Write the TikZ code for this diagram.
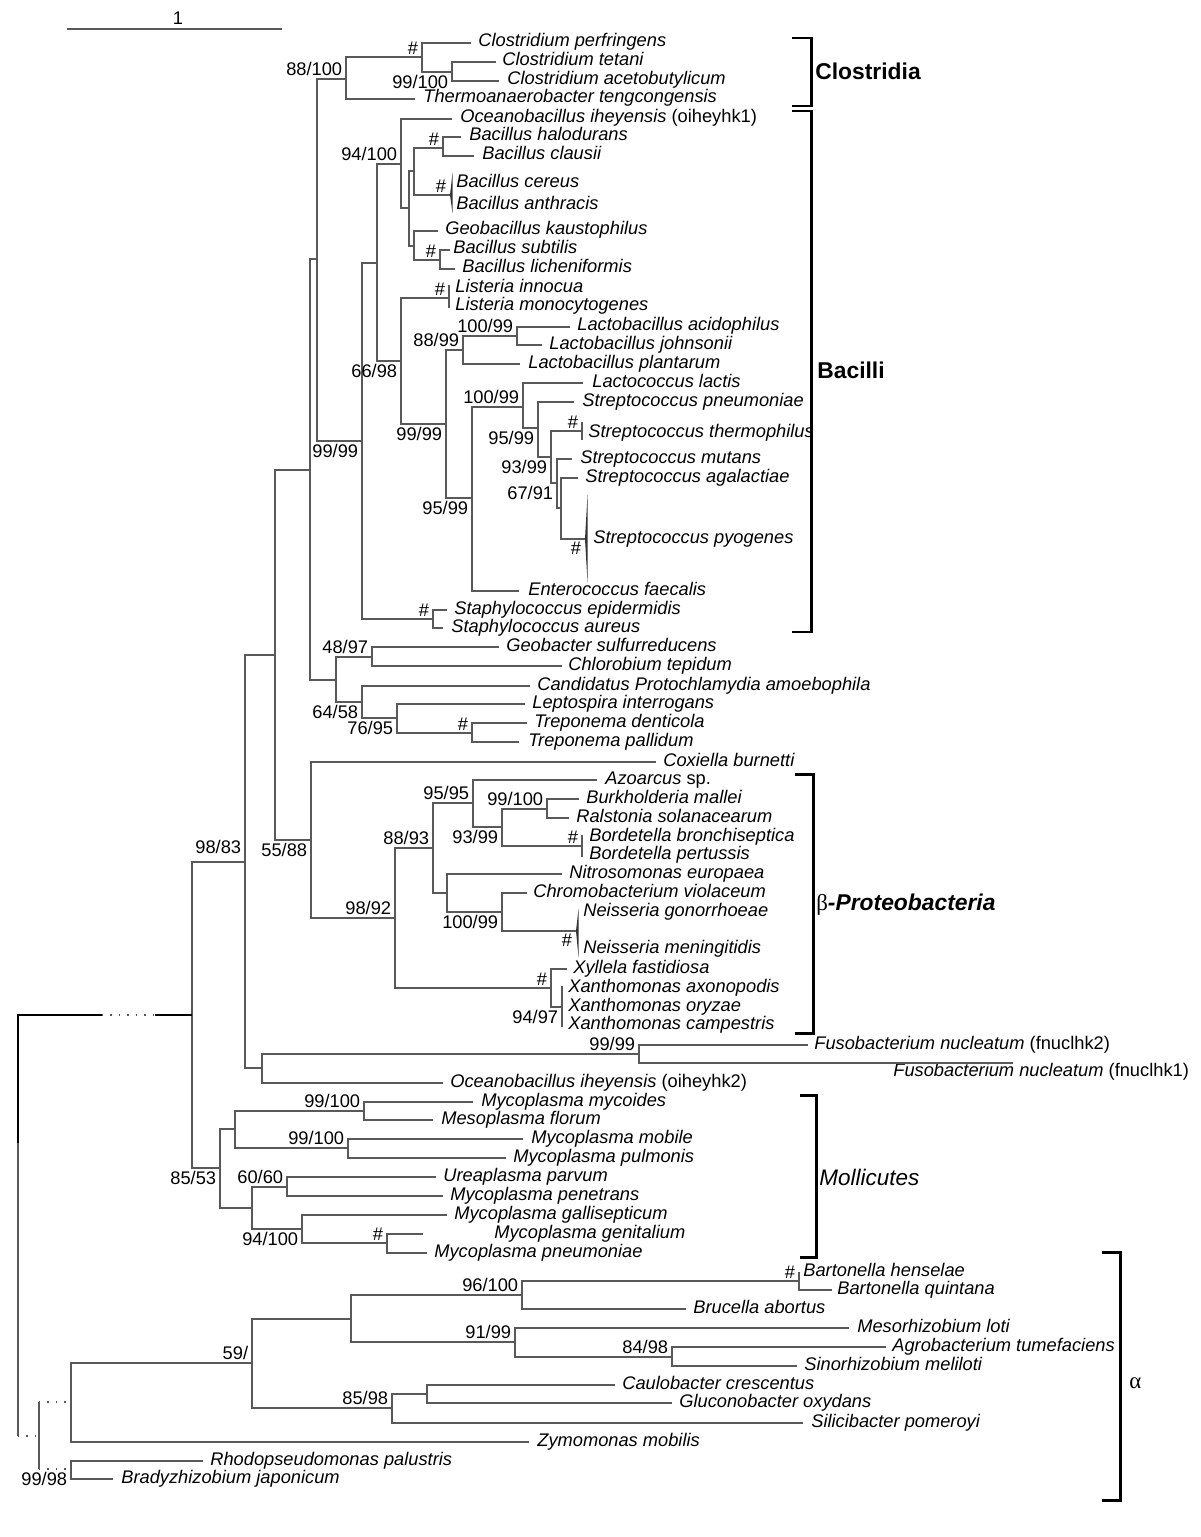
\documentclass[tikz,border=0pt]{standalone}
\usepackage{fontspec}
\setmainfont{Liberation Sans}
\newfontfamily\grkfont{Liberation Serif}

\tikzset{
  br/.style={draw=black!65, line width=0.7pt},
  stem/.style={draw=black, line width=1pt},
  gap/.style={draw=black!65, line width=0.8pt, dash pattern=on 0.8pt off 4pt},
  clade/.style={draw=black, line width=1.7pt, line join=miter},
  wedge/.style={fill=black!80},
  taxon/.style={anchor=base west, inner sep=0pt, font=\fontsize{10.4}{12}\selectfont\itshape},
  bsa/.style={anchor=south east, inner xsep=2pt, inner ysep=1.5pt, font=\fontsize{10.4}{12}\selectfont},
  bsb/.style={anchor=north east, inner xsep=2pt, inner ysep=1.5pt, font=\fontsize{10.4}{12}\selectfont},
  grp/.style={anchor=west, inner sep=0pt, font=\fontsize{13}{15}\selectfont\bfseries}
}

\begin{document}
\begin{tikzpicture}[x=0.02cm, y=-0.02cm]
\useasboundingbox (0,0) rectangle (1200,1537);

% scale bar
\coordinate (sbL) at (67,29);
\coordinate (sbR) at (282,29);
\draw [br] (sbL) -- (sbR);
\node [inner sep=0pt, font=\fontsize{10.4}{12}\selectfont] (one) at (178,18) {1};

% internal nodes
\coordinate (nA) at (192,1015);
\coordinate (nB) at (245,862);
\coordinate (nC) at (275,655);
\coordinate (nD) at (310,470);
\coordinate (nFB) at (317,259);
\coordinate (nClo) at (346,79);
\coordinate (nCl1) at (422,57);
\coordinate (nCl2) at (452,72);
\coordinate (nBac) at (362,441);
\coordinate (nB1) at (377,263);
\coordinate (nBs) at (401,164);
\coordinate (nBs2) at (409,208);
\coordinate (nBs3) at (414,171);
\coordinate (nHal) at (443,148);
\coordinate (nCer) at (450,195);
\coordinate (nBs4) at (414,246);
\coordinate (nSub) at (440,260);
\coordinate (nLL) at (401,361);
\coordinate (nList) at (449,298);
\coordinate (nLac) at (446,424);
\coordinate (nL1) at (463,350);
\coordinate (nL2) at (517,336);
\coordinate (nSt) at (472,498);
\coordinate (nS1) at (523,407);
\coordinate (nS2) at (538,428);
\coordinate (nS3) at (551,457);
\coordinate (nTh) at (582,431);
\coordinate (nS4) at (557,483);
\coordinate (nS5) at (561,508);
\coordinate (nPy) at (585,539);
\coordinate (nStaph) at (433,619);
\coordinate (nOth) at (336,680);
\coordinate (nGC) at (372,657);
\coordinate (nCL) at (362,702);
\coordinate (nLT) at (397,718);
\coordinate (nTr) at (472,733);
\coordinate (nBeta) at (311,840);
\coordinate (nBt) at (395,918);
\coordinate (nB88) at (433,848);
\coordinate (nB95) at (473,803);
\coordinate (nB93) at (502,827);
\coordinate (nBR) at (547,809);
\coordinate (nBord) at (582,846);
\coordinate (nNC) at (447,893);
\coordinate (nNe) at (502,912);
\coordinate (nNm) at (576,931);
\coordinate (nX) at (551,988);
\coordinate (nXa) at (562,1007);
\coordinate (nFu) at (262,1068);
\coordinate (nFn) at (639,1054);
\coordinate (nMol) at (220,1168);
\coordinate (nM1) at (235,1129);
\coordinate (nMy) at (364,1111);
\coordinate (nMp) at (348,1148);
\coordinate (nM2) at (252,1208);
\coordinate (nUr) at (287,1187);
\coordinate (nMg) at (302,1229);
\coordinate (nGe) at (387,1243);
\coordinate (nAlR) at (39,1436);
\coordinate (nAl) at (71,1402);
\coordinate (nA59) at (252,1363);
\coordinate (nA1) at (351,1319);
\coordinate (nA96) at (522,1295);
\coordinate (nBa) at (799,1281);
\coordinate (nA91) at (515,1342);
\coordinate (nA84) at (672,1357);
\coordinate (nA85) at (392,1408);
\coordinate (nCG) at (427,1394);
\coordinate (nRB) at (71,1469);

% leaves: name / branch end / y / text x / text
\foreach \id/\ex/\ly/\tx/\txt in {
  perf/471/43/478/{Clostridium perfringens},
  tetani/496/62/502/{Clostridium tetani},
  aceto/499/81/507/{Clostridium acetobutylicum},
  thermo/415/99/423/{Thermoanaerobacter tengcongensis},
  ocea1/452/119/460/{Oceanobacillus iheyensis {\upshape(oiheyhk1)}},
  halo/461/137/469/{Bacillus halodurans},
  clau/474/156/482/{Bacillus clausii},
  geob/438/231/445/{Geobacillus kaustophilus},
  subt/450/250/453/{Bacillus subtilis},
  lich/455/269/462/{Bacillus licheniformis},
  acid/570/327/577/{Lactobacillus acidophilus},
  john/542/345/549/{Lactobacillus johnsonii},
  plan/520/364/528/{Lactobacillus plantarum},
  lact/583/383/592/{Lactococcus lactis},
  spne/574/402/582/{Streptococcus pneumoniae},
  smut/572/459/580/{Streptococcus mutans},
  saga/578/478/585/{Streptococcus agalactiae},
  ente/519/591/528/{Enterococcus faecalis},
  sepi/447/610/454/{Staphylococcus epidermidis},
  saur/443/628/451/{Staphylococcus aureus},
  geo/499/647/506/{Geobacter sulfurreducens},
  chlo/562/666/568/{Chlorobium tepidum},
  cand/530/686/537/{Candidatus Protochlamydia amoebophila},
  lept/525/704/532/{Leptospira interrogans},
  tden/527/723/534/{Treponema denticola},
  tpal/519/742/528/{Treponema pallidum},
  coxi/656/762/663/{Coxiella burnetti},
  azoa/597/780/605/{Azoarcus {\upshape sp.}},
  burk/579/799/586/{Burkholderia mallei},
  rals/569/818/576/{Ralstonia solanacearum},
  nitr/562/874/569/{Nitrosomonas europaea},
  chro/527/893/533/{Chromobacterium violaceum},
  xyll/567/969/573/{Xyllela fastidiosa},
  fus2/808/1045/814/{Fusobacterium nucleatum {\upshape(fnuclhk2)}},
  ocea2/443/1083/450/{Oceanobacillus iheyensis {\upshape(oiheyhk2)}},
  mmyc/473/1102/481/{Mycoplasma mycoides},
  mflo/433/1120/441/{Mesoplasma florum},
  mmob/523/1139/531/{Mycoplasma mobile},
  mpul/506/1158/513/{Mycoplasma pulmonis},
  urea/436/1177/443/{Ureaplasma parvum},
  mpen/443/1196/450/{Mycoplasma penetrans},
  mgal/447/1215/454/{Mycoplasma gallisepticum},
  mgen/423/1234/494/{Mycoplasma genitalium},
  mpne/427/1253/434/{Mycoplasma pneumoniae},
  bhen/799/1272/803/{Bartonella henselae},
  bqui/832/1290/837/{Bartonella quintana},
  bruc/686/1309/693/{Brucella abortus},
  meso/849/1328/857/{Mesorhizobium loti},
  agro/886/1347/892/{Agrobacterium tumefaciens},
  sino/797/1366/804/{Sinorhizobium meliloti},
  caul/615/1385/622/{Caulobacter crescentus},
  gluc/672/1403/679/{Gluconobacter oxydans},
  sili/803/1423/811/{Silicibacter pomeroyi},
  zymo/529/1442/537/{Zymomonas mobilis},
  rhod/203/1461/210/{Rhodopseudomonas palustris},
  brad/113/1479/121/{Bradyzhizobium japonicum}}
{
  \coordinate (\id) at (\ex,\ly);
  \node [taxon] (t\id) at (\tx,\ly+4) {\txt};
}
\coordinate (fus1) at (1013,1063);

% collapsed taxa, text only
\foreach \id/\tx/\ly/\txt in {
  bcer/456/184/{Bacillus cereus},
  bant/456/206/{Bacillus anthracis},
  linn/455/289/{Listeria innocua},
  lmon/455/307/{Listeria monocytogenes},
  sthe/588/433/{Streptococcus thermophilus},
  spyo/593/539/{Streptococcus pyogenes},
  bbro/589/837/{Bordetella bronchiseptica},
  bper/589/855/{Bordetella pertussis},
  ngon/583/912/{Neisseria gonorrhoeae},
  nmen/583/949/{Neisseria meningitidis},
  xaxo/568/988/{Xanthomonas axonopodis},
  xory/568/1007/{Xanthomonas oryzae},
  xcam/568/1025/{Xanthomonas campestris},
  fus1/893/1072/{Fusobacterium nucleatum {\upshape(fnuclhk1)}}}
{
  \node [taxon] (t\id) at (\tx,\ly+4) {\txt};
}

% branches
\foreach \p/\c in {nA/nB, nA/nMol, nB/nC, nB/nFu, nC/nD, nC/nBeta,
  nD/nFB, nD/nOth, nFB/nClo, nFB/nBac, nClo/nCl1, nClo/thermo,
  nCl1/perf, nCl1/nCl2, nCl2/tetani, nCl2/aceto, nBac/nB1, nBac/nStaph,
  nB1/nBs, nB1/nLL, nBs/ocea1, nBs/nBs2, nBs2/nBs3, nBs2/nBs4,
  nBs3/nHal, nBs3/nCer, nHal/halo, nHal/clau, nBs4/geob, nBs4/nSub,
  nSub/subt, nSub/lich, nLL/nList, nLL/nLac, nLac/nL1, nLac/nSt,
  nL1/nL2, nL1/plan, nL2/acid, nL2/john, nSt/nS1, nSt/ente,
  nS1/lact, nS1/nS2, nS2/spne, nS2/nS3, nS3/nTh, nS3/nS4,
  nS4/smut, nS4/nS5, nS5/saga, nS5/nPy, nStaph/sepi, nStaph/saur,
  nOth/nGC, nOth/nCL, nGC/geo, nGC/chlo, nCL/cand, nCL/nLT,
  nLT/lept, nLT/nTr, nTr/tden, nTr/tpal, nBeta/coxi, nBeta/nBt,
  nBt/nB88, nBt/nX, nB88/nB95, nB88/nNC, nB95/azoa, nB95/nB93,
  nB93/nBR, nB93/nBord, nBR/burk, nBR/rals, nNC/nitr, nNC/nNe,
  nNe/chro, nNe/nNm, nX/xyll, nX/nXa, nFu/nFn, nFu/ocea2,
  nFn/fus2, nFn/fus1, nMol/nM1, nMol/nM2, nM1/nMy, nM1/nMp,
  nMy/mmyc, nMy/mflo, nMp/mmob, nMp/mpul, nM2/nUr, nM2/nMg,
  nUr/urea, nUr/mpen, nMg/mgal, nMg/nGe, nGe/mgen, nGe/mpne,
  nAl/nA59, nAl/zymo, nA59/nA1, nA59/nA85, nA1/nA96, nA1/nA91,
  nA96/nBa, nA96/bruc, nBa/bhen, nBa/bqui, nA91/meso, nA91/nA84,
  nA84/agro, nA84/sino, nA85/nCG, nA85/sili, nCG/caul, nCG/gluc,
  nRB/rhod, nRB/brad}
  \draw [br] (\p) |- (\c);

% collapsed groups
\fill [wedge] (nCer) -- ++(2.5,-22) -- ++(0,40) -- cycle;
\fill [wedge] (nPy) -- ++(2.5,-44) -- ++(0,87) -- cycle;
\fill [wedge] (nNm) -- ++(2.5,-22) -- ++(0,48) -- cycle;
\draw [br] (nList) +(0,-13) -- +(0,10);
\draw [br] (nTh) +(0,-9) -- +(0,9);
\draw [br] (nBord) +(0,-11) -- +(0,11);
\draw [br] (nXa) +(0,-21) -- +(0,20);

% root
\coordinate (root) at (18,1015);
\coordinate (rootmid) at (18,1143);
\coordinate (rootb) at (18,1436);
\coordinate (gapL) at (102,1015);
\coordinate (gapR) at (155,1015);
\draw [stem] (rootmid) -- (root) -- (gapL);
\draw [gap] (gapL) -- (gapR);
\draw [stem] (gapR) -- (nA);
\draw [br] (rootmid) -- (rootb);
\draw [gap] (rootb) -- (nAlR);
\draw [br] (nAlR |- nAl) -- (nAlR |- nRB);
\draw [gap] (nAlR |- nAl) -- (nAl);
\draw [gap] (nAlR |- nRB) -- (nRB);

% support values
\node [bsa] (bClo) at (nClo) {88/100};
\node [bsa] (bCl1) at (nCl1) {\#};
\node [bsb] (bCl2) at (nCl2) {99/100};
\node [bsb] (bBac) at (nBac) {99/99};
\node [bsa] (bBs) at (nBs) {94/100};
\node [bsa] (bHal) at (nHal) {\#};
\node [bsa] (bCer) at (nCer) {\#};
\node [bsa] (bSub) at (nSub) {\#};
\node [bsb] (bLL) at (nLL) {66/98};
\node [bsa] (bList) at (nList) {\#};
\node [bsb] (bLac) at (nLac) {99/99};
\node [bsa] (bL1) at (nL1) {88/99};
\node [bsa] (bL2) at (nL2) {100/99};
\node [bsb] (bSt) at (nSt) {95/99};
\node [bsa] (bS1) at (nS1) {100/99};
\node [bsb] (bS2) at (nS2) {95/99};
\node [bsb] (bS3) at (nS3) {93/99};
\node [bsa] (bTh) at (nTh) {\#};
\node [bsb] (bS4) at (nS4) {67/91};
\node [bsb] (bPy) at (nPy) {\#};
\node [bsa] (bStaph) at (nStaph) {\#};
\node [bsa] (bGC) at (nGC) {48/97};
\node [bsb] (bCL) at (nCL) {64/58};
\node [bsb] (bLT) at (nLT) {76/95};
\node [bsa] (bTr) at (nTr) {\#};
\node [bsa, yshift=3pt] (bB) at (nB) {98/83};
\node [bsb] (bBeta) at (nBeta) {55/88};
\node [bsa] (bBt) at (nBt) {98/92};
\node [bsa] (bB88) at (nB88) {88/93};
\node [bsa] (bB95) at (nB95) {95/95};
\node [bsb] (bB93) at (nB93) {93/99};
\node [bsa] (bBR) at (nBR) {99/100};
\node [bsa] (bBord) at (nBord) {\#};
\node [bsb] (bNe) at (nNe) {100/99};
\node [bsb] (bNm) at (nNm) {\#};
\node [bsa] (bX) at (nX) {\#};
\node [bsb] (bXa) at (nXa) {94/97};
\node [bsa] (bFn) at (nFn) {99/99};
\node [bsb] (bMol) at (nMol) {85/53};
\node [bsa] (bMy) at (nMy) {99/100};
\node [bsa] (bMp) at (nMp) {99/100};
\node [bsa] (bUr) at (nUr) {60/60};
\node [bsb] (bMg) at (nMg) {94/100};
\node [bsa] (bGe) at (nGe) {\#};
\node [bsa] (bA59) at (nA59) {59/};
\node [bsa] (bA96) at (nA96) {96/100};
\node [bsa] (bBa) at (nBa) {\#};
\node [bsa] (bA91) at (nA91) {91/99};
\node [bsa] (bA84) at (nA84) {84/98};
\node [bsa] (bA85) at (nA85) {85/98};
\node [bsb] (bRB) at (nRB) {99/98};

% clade brackets
\draw [clade] (792,38) -- (811,38) -- (811,106) -- (792,106);
\draw [clade] (792,111) -- (811,111) -- (811,632) -- (792,632);
\draw [clade] (795,774) -- (813,774) -- (813,1033) -- (795,1033);
\draw [clade] (800,1095) -- (816,1095) -- (816,1257) -- (800,1257);
\draw [clade] (1102,1252) -- (1120,1252) -- (1120,1500) -- (1102,1500);
\node [grp] (gClo) at (815,71) {Clostridia};
\node [grp] (gBac) at (817,370) {Bacilli};
\node [grp] (gBeta) at (816,905) {{\grkfont\mdseries β}\itshape-Proteobacteria};
\node [grp, font=\fontsize{12.8}{15}\selectfont\itshape] (gMol) at (819,1177) {Mollicutes};
\node [grp, font=\fontsize{13}{15}\selectfont\grkfont] (gAlp) at (1129,1383) {α};
\end{tikzpicture}
\end{document}
